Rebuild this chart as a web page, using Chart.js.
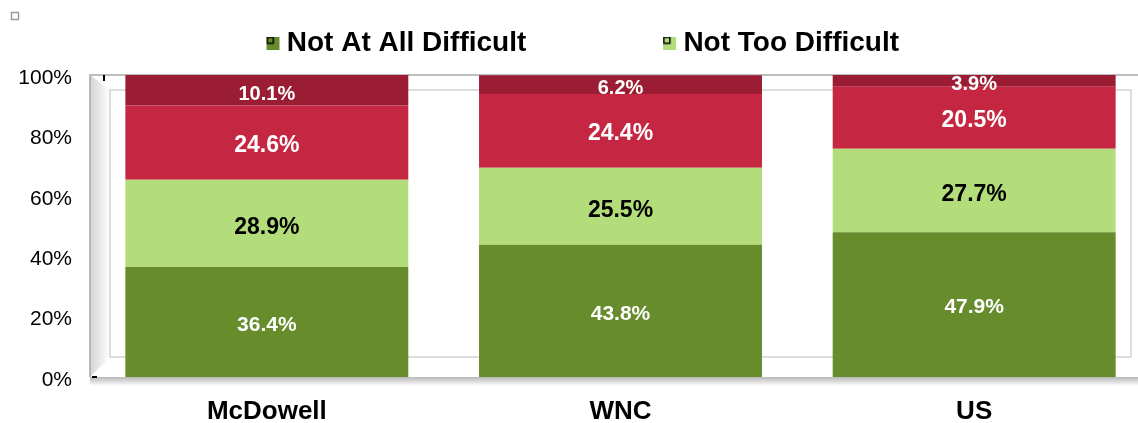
<!DOCTYPE html>
<html>
<head>
<meta charset="utf-8">
<script src="https://cdn.jsdelivr.net/npm/chart.js@4"></script>
<style>
  html, body { margin: 0; padding: 0; background: #fff; overflow: hidden; }
  #caja { width: 1160px; height: 423px; }
</style>
</head>
<body>
<div id="caja"><canvas id="grafica"></canvas></div>
<script>
// Datos
const categorias = ['McDowell', 'WNC', 'US'];
const nombres = ['Not At All Difficult', 'Not Too Difficult', 'Somewhat Difficult', 'Very Difficult'];
const nadaDificil = [36.4, 43.8, 47.9];
const pocoDificil = [28.9, 25.5, 27.7];
const algoDificil = [24.6, 24.4, 20.5];
const muyDificil = [10.1, 6.2, 3.9];
const marcasY = [0, 20, 40, 60, 80, 100];

const colores = ['#668c2c', '#b3dc7a', '#c52743', '#9b1d33'];
const coloresTexto = ['#ffffff', '#000000', '#ffffff', '#ffffff'];
const tamTexto = [21, 23, 23, 20];
const bajarTexto = [3, 4, 3, 4];

// Cuadro de la leyenda como imagen, corrido a la derecha para quedar junto al texto
function cajaLeyenda(color) {
    const c = document.createElement('canvas');
    c.width = 44;
    c.height = 13;
    const g = c.getContext('2d');
    g.fillStyle = color;
    g.fillRect(30, 0, 13, 13);
    g.strokeStyle = '#000';
    g.lineWidth = 1.5;
    g.strokeRect(30.75, 0.75, 6, 6);
    return c;
}

// Marco 3D del area de la grafica, detras de las barras
const marco = {
    id: 'marco',
    beforeDatasetsDraw(chart) {
        const {ctx, chartArea: a} = chart;
        const d = 20;
        ctx.save();
        // pared izquierda
        let g = ctx.createLinearGradient(a.left, 0, a.left + d, 0);
        g.addColorStop(0, '#d4d4d4');
        g.addColorStop(1, '#ffffff');
        ctx.fillStyle = g;
        ctx.beginPath();
        ctx.moveTo(a.left, a.top);
        ctx.lineTo(a.left + d, a.top + 15);
        ctx.lineTo(a.left + d, a.bottom - d);
        ctx.lineTo(a.left, a.bottom);
        ctx.closePath();
        ctx.fill();
        // sombra del piso
        g = ctx.createLinearGradient(0, a.bottom, 0, a.bottom + 9);
        g.addColorStop(0, '#b8b8b8');
        g.addColorStop(1, '#ffffff');
        ctx.fillStyle = g;
        ctx.fillRect(a.left, a.bottom, a.right - a.left, 9);
        // rectangulo interior
        ctx.strokeStyle = '#d2d2d2';
        ctx.lineWidth = 1.5;
        ctx.strokeRect(a.left + d, a.top + 15, a.right - a.left - 2 * d, a.bottom - a.top - 35);
        // borde exterior
        ctx.strokeStyle = '#a8a8a8';
        ctx.lineWidth = 1.5;
        ctx.beginPath();
        ctx.moveTo(a.left, a.bottom);
        ctx.lineTo(a.left, a.top);
        ctx.lineTo(a.right, a.top);
        ctx.stroke();
        // marcas pequeñas del eje
        ctx.strokeStyle = '#000';
        ctx.lineWidth = 2;
        ctx.beginPath();
        ctx.moveTo(a.left + 14, a.top);
        ctx.lineTo(a.left + 14, a.top + 6);
        ctx.moveTo(a.left + 2, a.bottom);
        ctx.lineTo(a.left + 7, a.bottom);
        ctx.stroke();
        ctx.restore();
    },
    afterDraw(chart) {
        const ctx = chart.ctx;
        ctx.save();
        // cuadrito gris arriba a la izquierda
        ctx.strokeStyle = '#9a9a9a';
        ctx.lineWidth = 1.5;
        ctx.strokeRect(11.5, 12.5, 7, 7);
        ctx.restore();
    }
};

// Etiquetas de valor en el centro de cada segmento
const etiquetas = {
    id: 'etiquetas',
    afterDatasetsDraw(chart) {
        const ctx = chart.ctx;
        ctx.save();
        ctx.textAlign = 'center';
        ctx.textBaseline = 'middle';
        chart.data.datasets.forEach((ds, i) => {
            const meta = chart.getDatasetMeta(i);
            ctx.fillStyle = coloresTexto[i];
            ctx.font = 'bold ' + tamTexto[i] + 'px "Liberation Sans", Arial, sans-serif';
            meta.data.forEach((barra, j) => {
                const y = (barra.y + barra.base) / 2;
                ctx.fillText(ds.data[j].toFixed(1) + '%', barra.x, y + bajarTexto[i]);
            });
        });
        ctx.restore();
    }
};

// Altura fija para la leyenda
const altoLeyenda = {
    id: 'altoLeyenda',
    beforeInit(chart) {
        const fit = chart.legend.fit;
        chart.legend.fit = function () {
            fit.bind(chart.legend)();
            this.height = 75;
        };
    }
};

const series = [nadaDificil, pocoDificil, algoDificil, muyDificil];

new Chart(document.getElementById('grafica'), {
    type: 'bar',
    data: {
        labels: categorias,
        datasets: series.map((valores, i) => ({
            label: nombres[i],
            data: valores,
            backgroundColor: colores[i],
            borderWidth: 0,
            categoryPercentage: 0.8,
            barPercentage: 1
        }))
    },
    options: {
        responsive: true,
        maintainAspectRatio: false,
        animation: false,
        layout: { padding: { left: 0, right: 9, top: 0, bottom: 0 } },
        scales: {
            x: {
                stacked: true,
                grid: { display: false, drawTicks: false },
                border: { display: false },
                ticks: {
                    color: '#000',
                    padding: 19,
                    font: { family: '"Liberation Sans", Arial, sans-serif', size: 26, weight: 'bold' }
                },
                afterFit(escala) { escala.height = 46; }
            },
            y: {
                stacked: true,
                min: 0,
                max: 100,
                grid: { display: false, drawTicks: false },
                border: { display: false },
                afterBuildTicks(escala) {
                    escala.ticks = marcasY.map(v => ({ value: v }));
                },
                ticks: {
                    color: '#000',
                    padding: 18,
                    labelOffset: 3,
                    font: { family: '"Liberation Sans", Arial, sans-serif', size: 21 },
                    callback: v => v + '%'
                },
                afterFit(escala) { escala.width = 90; }
            }
        },
        plugins: {
            tooltip: { enabled: false },
            legend: {
                position: 'top',
                labels: {
                    color: '#000',
                    usePointStyle: true,
                    boxWidth: 13,
                    boxHeight: 13,
                    padding: 29,
                    font: { family: '"Liberation Sans", Arial, sans-serif', size: 28, weight: 'bold' },
                    generateLabels(chart) {
                        return chart.data.datasets.slice(0, 2).map((ds, i) => ({
                            text: i === 0 ? '\u00a0' + ds.label + '\u00a0'.repeat(12) : '\u00a0' + ds.label,
                            fillStyle: ds.backgroundColor,
                            strokeStyle: ds.backgroundColor,
                            lineWidth: 0,
                            pointStyle: cajaLeyenda(ds.backgroundColor),
                            datasetIndex: i
                        }));
                    }
                }
            }
        }
    },
    plugins: [marco, etiquetas, altoLeyenda]
});
</script>
</body>
</html>
